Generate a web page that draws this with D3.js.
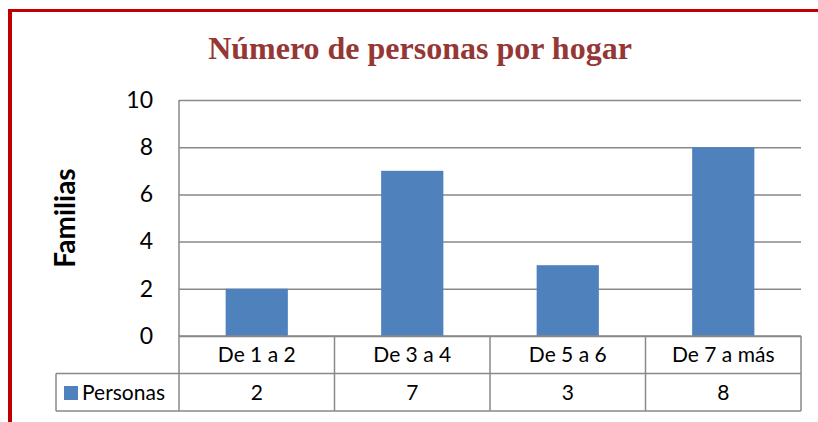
<!DOCTYPE html>
<html>
<head>
<meta charset="utf-8">
<script src="https://cdn.jsdelivr.net/npm/d3@7"></script>
<style>
  body { margin: 0; background: #fff; }
  svg { display: block; }
</style>
</head>
<body>
<div id="chart"></div>
<script>
// data
const categories = ["De 1 a 2", "De 3 a 4", "De 5 a 6", "De 7 a más"];
const personas = [2, 7, 3, 8];
const yTicks = [0, 2, 4, 6, 8, 10];
const seriesName = "Personas";
const title = "Número de personas por hogar";
const yTitle = "Familias";

const W = 818, H = 422;
const plotLeft = 179, plotRight = 801, plotTop = 100, plotBottom = 336;
const rowH = 37.5;

const svg = d3.select("#chart").append("svg")
  .attr("width", W)
  .attr("height", H);

// red frame (top + left)
svg.append("line")
  .attr("x1", 8).attr("x2", W).attr("y1", 10.5).attr("y2", 10.5)
  .attr("stroke", "#C00000").attr("stroke-width", 3);
svg.append("line")
  .attr("x1", 10).attr("x2", 10).attr("y1", 9).attr("y2", H)
  .attr("stroke", "#C00000").attr("stroke-width", 4);

let x = d3.scaleBand()
  .domain(categories)
  .range([plotLeft, plotRight])
  .padding(0);

let y = d3.scaleLinear()
  .domain([0, 10])
  .range([plotBottom, plotTop]);

// gridlines + y labels
let yAxis = d3.axisLeft(y)
  .tickValues(yTicks)
  .tickSize(-(plotRight - plotLeft))
  .tickPadding(26);

let gy = svg.append("g")
  .attr("transform", "translate(" + plotLeft + ",0)")
  .call(yAxis);
gy.select(".domain").remove();
gy.selectAll(".tick line")
  .attr("stroke", "#898989")
  .attr("stroke-width", 1.5);
gy.selectAll(".tick text")
  .attr("fill", "#000")
  .style("font-family", "Lato, sans-serif")
  .style("font-size", "23px");

// bars
let barW = x.bandwidth() * 0.4;
svg.selectAll("rect.bar")
  .data(personas)
  .enter()
  .append("rect")
  .attr("class", "bar")
  .attr("x", (d, i) => x(categories[i]) + (x.bandwidth() - barW) / 2)
  .attr("y", d => y(d))
  .attr("width", barW)
  .attr("height", d => y(0) - y(d))
  .attr("fill", "#4F81BD");

// data table
const tableLeft = 56;
const grid = svg.append("g")
  .attr("stroke", "#898989")
  .attr("stroke-width", 1.5)
  .attr("fill", "none");

// y axis line down through the table
grid.append("line")
  .attr("x1", plotLeft).attr("x2", plotLeft)
  .attr("y1", plotTop).attr("y2", plotBottom + 2 * rowH);
// horizontal rows
grid.append("line")
  .attr("x1", plotLeft).attr("x2", plotRight)
  .attr("y1", plotBottom).attr("y2", plotBottom);
grid.append("line")
  .attr("x1", tableLeft).attr("x2", plotRight)
  .attr("y1", plotBottom + rowH).attr("y2", plotBottom + rowH);
grid.append("line")
  .attr("x1", tableLeft).attr("x2", plotRight)
  .attr("y1", plotBottom + 2 * rowH).attr("y2", plotBottom + 2 * rowH);
grid.append("line")
  .attr("x1", tableLeft).attr("x2", tableLeft)
  .attr("y1", plotBottom + rowH).attr("y2", plotBottom + 2 * rowH);
// column separators
grid.selectAll("line.col")
  .data(categories)
  .enter()
  .append("line")
  .attr("class", "col")
  .attr("x1", d => x(d) + x.bandwidth())
  .attr("x2", d => x(d) + x.bandwidth())
  .attr("y1", plotBottom)
  .attr("y2", plotBottom + 2 * rowH);

const cellFont = "Lato, sans-serif";
svg.selectAll("text.cat")
  .data(categories)
  .enter()
  .append("text")
  .attr("class", "cat")
  .attr("x", d => x(d) + x.bandwidth() / 2)
  .attr("y", plotBottom + rowH / 2)
  .attr("dy", "0.35em")
  .attr("text-anchor", "middle")
  .style("font-family", cellFont)
  .style("font-size", "21px")
  .text(d => d);

svg.selectAll("text.val")
  .data(personas)
  .enter()
  .append("text")
  .attr("class", "val")
  .attr("x", (d, i) => x(categories[i]) + x.bandwidth() / 2)
  .attr("y", plotBottom + rowH * 1.5)
  .attr("dy", "0.35em")
  .attr("text-anchor", "middle")
  .style("font-family", cellFont)
  .style("font-size", "21px")
  .text(d => d);

// legend key in table
svg.append("rect")
  .attr("x", 64).attr("y", 386)
  .attr("width", 14).attr("height", 14)
  .attr("fill", "#4F81BD");
svg.append("text")
  .attr("x", 82)
  .attr("y", plotBottom + rowH * 1.5)
  .attr("dy", "0.35em")
  .style("font-family", cellFont)
  .style("font-size", "21px")
  .text(seriesName);

// title
svg.append("text")
  .attr("x", 420)
  .attr("y", 59)
  .attr("text-anchor", "middle")
  .attr("fill", "#953735")
  .style("font-family", "'Liberation Serif', 'Times New Roman', serif")
  .style("font-weight", "bold")
  .style("font-size", "32px")
  .text(title);

// y title
svg.append("text")
  .attr("transform", "translate(75,218) rotate(-90)")
  .attr("text-anchor", "middle")
  .style("font-family", "Lato, sans-serif")
  .style("font-weight", "bold")
  .style("font-size", "28px")
  .text(yTitle);
</script>
</body>
</html>
